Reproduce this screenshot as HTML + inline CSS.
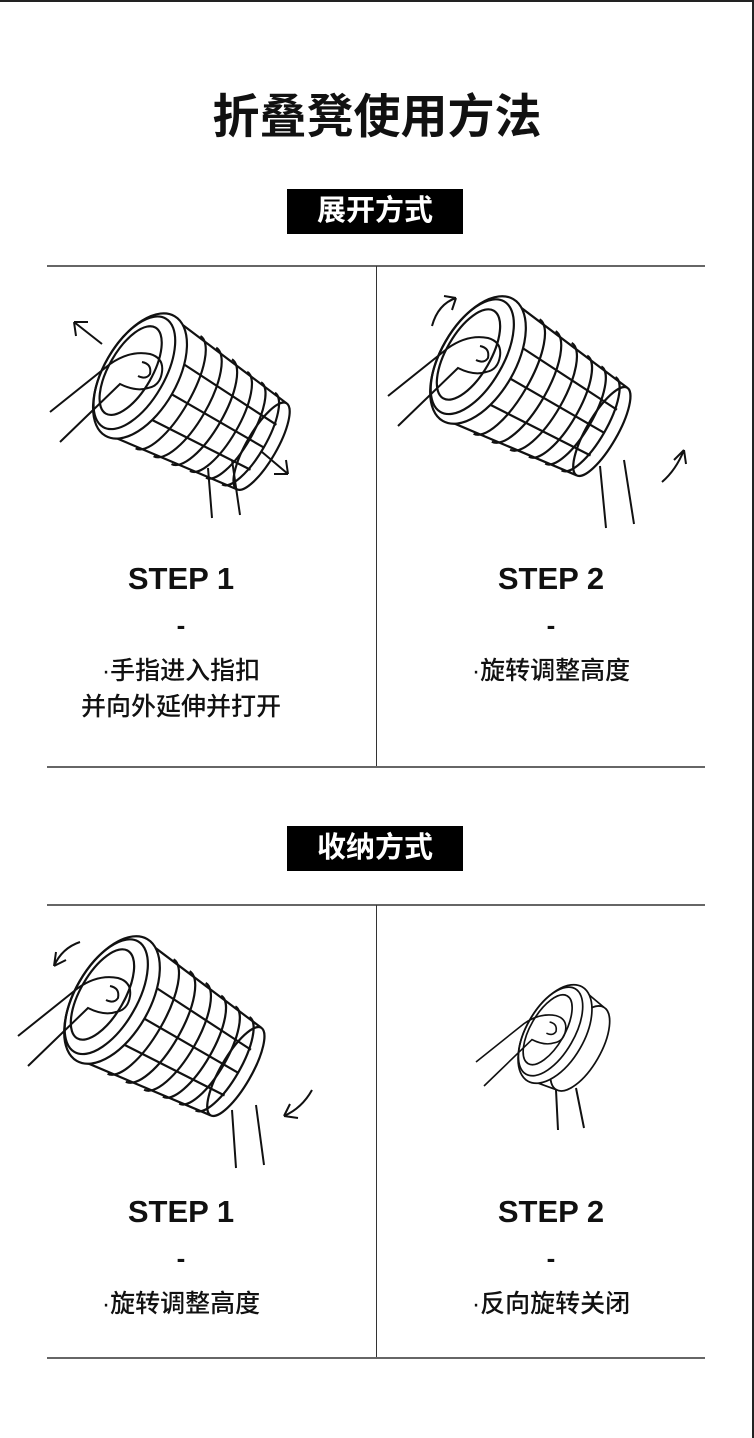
<!DOCTYPE html>
<html><head><meta charset="utf-8">
<style>
body{margin:0;width:754px;height:1438px;background:#fff;position:relative;overflow:hidden;font-family:"Liberation Sans","Noto Sans CJK SC",sans-serif;color:#111}
.a{position:absolute}
.t{left:0;width:754px;text-align:center;font-weight:bold;font-size:47px;top:86px;line-height:62px;letter-spacing:0px}
.box{left:287px;width:176px;height:45px;background:#000;color:#fff;font-weight:bold;font-size:29px;line-height:45px;text-align:center}
.h{left:47px;width:658px;height:2px;background:#666}
.v{left:376px;width:1px;background:#333}
.st{width:330px;text-align:center;font-weight:bold;font-size:31px;line-height:40px}
.d{width:330px;text-align:center;font-weight:bold;font-size:26px;line-height:30px}
.tx{width:330px;text-align:center;font-size:25px;line-height:36px;font-weight:500}
</style></head><body>
<div class="a" style="left:0;top:0;width:754px;height:2px;background:#222"></div>
<div class="a" style="left:752px;top:0;width:2px;height:1438px;background:#222"></div>
<div class="a t">折叠凳使用方法</div>
<div class="a box" style="top:189px">展开方式</div>
<div class="a h" style="top:265px"></div>
<div class="a v" style="top:266px;height:501px"></div>
<div class="a h" style="top:766px"></div>
<div class="a box" style="top:826px">收纳方式</div>
<div class="a h" style="top:904px"></div>
<div class="a v" style="top:905px;height:453px"></div>
<div class="a h" style="top:1357px"></div>

<svg class="a" style="left:0;top:0" width="754" height="1438" fill="none" stroke="#111" stroke-width="2">
<defs>
<g id="stool">
  <path d="M0,-62 L130,-46 M0,62 L130,46"/>
  <ellipse cx="130" cy="0" rx="14" ry="46"/>
  <path d="M30,-60 A20,58 0 0 1 30,60 M48,-58 A20,56 0 0 1 48,58 M66,-56 A19,54 0 0 1 66,56 M84,-53 A18,52 0 0 1 84,53 M100,-51 A17,50 0 0 1 100,51 M116,-49 A16,48 0 0 1 116,49"/>
  <path d="M24,-30 L132,-24 M24,0 L132,0 M24,30 L132,24"/>
  <ellipse cx="0" cy="0" rx="34" ry="64" fill="#fff"/>
  <ellipse cx="-6" cy="0" rx="28" ry="58"/>
  <ellipse cx="-10" cy="0" rx="20" ry="46"/>
</g>
<g id="short">
  <path d="M0,-62 L34,-56 M0,62 L34,56"/>
  <ellipse cx="34" cy="0" rx="24" ry="56"/>
  <ellipse cx="0" cy="0" rx="34" ry="64" fill="#fff"/>
  <ellipse cx="-6" cy="0" rx="28" ry="58"/>
  <ellipse cx="-10" cy="0" rx="20" ry="46"/>
</g>
<g id="hand">
  <path d="M-90,40 L-30,-8 Q-10,-22 10,-18 Q24,-14 22,0 Q20,14 8,16 Q-4,20 -20,12 L-80,70"/>
  <path d="M2,-10 Q12,-8 10,2 Q6,8 -2,4"/>
</g>
</defs>
<g transform="translate(140,376) rotate(30) scale(1.08)"><use href="#stool"/></g>
<path d="M208,468 L212,518 M232,460 L240,515"/>
<use href="#hand" transform="translate(140,372)"/>
<path d="M102,344 L74,322 M74,322 L76,336 M74,322 L88,322"/>
<path d="M262,452 L288,474 M288,474 L286,460 M288,474 L274,474"/>

<g transform="translate(478,360) rotate(30) scale(1.1)"><use href="#stool"/></g>
<path d="M600,466 L606,528 M624,460 L634,524"/>
<use href="#hand" transform="translate(478,356)"/>
<path d="M432,326 Q438,304 456,298 M456,298 L444,296 M456,298 L452,310"/>
<path d="M662,482 Q676,470 684,450 M684,450 L674,460 M684,450 L686,464"/>

<g transform="translate(112,1000) rotate(30) scale(1.1)"><use href="#stool"/></g>
<path d="M232,1110 L236,1168 M256,1105 L264,1165"/>
<use href="#hand" transform="translate(108,996)"/>
<path d="M80,942 Q62,948 54,966 M54,966 L56,952 M54,966 L66,960"/>
<path d="M312,1090 Q302,1108 284,1116 M284,1116 L298,1118 M284,1116 L290,1104"/>

<g transform="translate(555,1034) rotate(30) scale(0.85)"><use href="#short"/></g>
<path d="M556,1090 L558,1130 M576,1088 L584,1128"/>
<use href="#hand" transform="translate(548,1030) scale(0.8)"/>
</svg>

<div class="a st" style="left:16px;top:559px">STEP 1</div>
<div class="a d" style="left:16px;top:610px">-</div>
<div class="a tx" style="left:16px;top:653px">·手指进入指扣<br>并向外延伸并打开</div>
<div class="a st" style="left:386px;top:559px">STEP 2</div>
<div class="a d" style="left:386px;top:610px">-</div>
<div class="a tx" style="left:386px;top:653px">·旋转调整高度</div>

<div class="a st" style="left:16px;top:1192px">STEP 1</div>
<div class="a d" style="left:16px;top:1243px">-</div>
<div class="a tx" style="left:16px;top:1286px">·旋转调整高度</div>
<div class="a st" style="left:386px;top:1192px">STEP 2</div>
<div class="a d" style="left:386px;top:1243px">-</div>
<div class="a tx" style="left:386px;top:1286px">·反向旋转关闭</div>
</body></html>
